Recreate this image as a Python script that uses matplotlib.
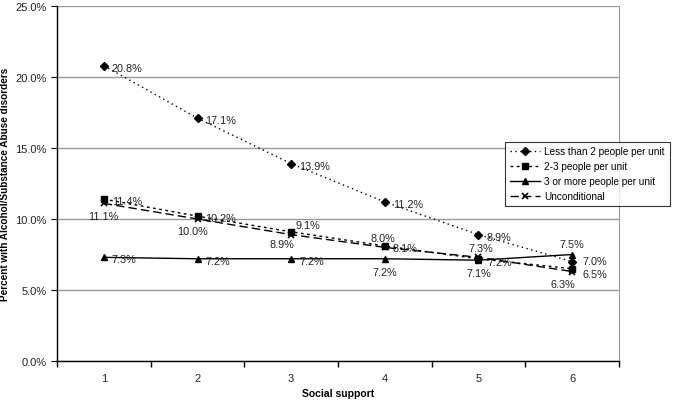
import matplotlib
matplotlib.use("Agg")
import matplotlib.pyplot as plt
from matplotlib.ticker import FuncFormatter, FixedLocator

plt.rcParams['font.family'] = ['Liberation Sans', 'DejaVu Sans']

support = [1, 2, 3, 4, 5, 6]
less_than_2 = [20.8, 17.1, 13.9, 11.2, 8.9, 7.0]
two_three = [11.4, 10.2, 9.1, 8.1, 7.2, 6.5]
three_plus = [7.3, 7.2, 7.2, 7.2, 7.1, 7.5]
unconditional = [11.1, 10.0, 8.9, 8.0, 7.3, 6.3]

names = ["Less than 2 people per unit", "2-3 people per unit",
         "3 or more people per unit", "Unconditional"]

# label placement per point (pixel offsets, alignment)
R = (8, -2, 'left')
place = [
    [R, R, R, R, R, (10, 1, 'left')],
    [R, R, (4, 7, 'left'), R, (9, -3, 'left'), (10, -5, 'left')],
    [R, R, R, (0, -13, 'center'), (0, -13, 'center'), (0, 10, 'center')],
    [(-1, -13, 'center'), (-5, -12, 'center'), (-9, -9, 'center'),
     (-2, 9, 'center'), (2, 9, 'center'), (-9, -12, 'center')],
]

styles = [
    dict(linestyle=(0, (1, 2.5)), marker='D', markersize=4),
    dict(linestyle=(0, (2, 2.5)), marker='s', markersize=5),
    dict(linestyle='-', marker='^', markersize=5),
    dict(linestyle=(0, (6, 3)), marker='x', markersize=5, markeredgewidth=1.2),
]

fig = plt.figure(figsize=(6.76, 4.06), dpi=100)
ax = fig.add_axes([57 / 676, 1 - 362 / 406, 562 / 676, 355 / 406])

series = [less_than_2, two_three, three_plus, unconditional]
for vals, name, st, pl in zip(series, names, styles, place):
    ax.plot(support, vals, color='black', linewidth=1, label=name, **st)
    for x, v, (dx, dy, ha) in zip(support, vals, pl):
        ax.annotate("%.1f%%" % v, (x, v), xytext=(dx, dy), textcoords='offset pixels',
                    ha=ha, va='center', fontsize=7.8, color='#222222')

ax.set_xlim(0.5, 6.5)
ax.set_ylim(0, 25)
ax.set_yticks([0, 5, 10, 15, 20, 25])
ax.yaxis.set_major_formatter(FuncFormatter(lambda v, p: "%.1f%%" % v))
ax.set_xticks(support)
ax.xaxis.set_minor_locator(FixedLocator([0.5, 1.5, 2.5, 3.5, 4.5, 5.5, 6.5]))
ax.tick_params(axis='x', which='major', length=0, pad=9, labelsize=8, labelcolor='#222222')
ax.tick_params(axis='x', which='minor', length=4, direction='out', width=1)
ax.tick_params(axis='y', length=4, direction='out', labelsize=8, labelcolor='#222222')
ax.grid(axis='y', color='#999999', linewidth=1)
ax.set_axisbelow(True)

ax.spines['top'].set_visible(False)
ax.spines['right'].set_color('#999999')
ax.spines['left'].set_linewidth(1)
ax.spines['bottom'].set_linewidth(1)

ax.set_xlabel("Social support", fontsize=7.5, fontweight='bold', labelpad=3)
ax.set_ylabel("Percent with Alcohol/Substance Abuse disorders", fontsize=7.2,
              fontweight='bold', labelpad=4)

leg = fig.legend(loc='upper left', bbox_to_anchor=(505 / 676, 1 - 143 / 406),
                 fontsize=7.2, frameon=True, fancybox=False, edgecolor='black',
                 handlelength=3.0, handletextpad=0.5, borderpad=0.45,
                 labelspacing=0.5, borderaxespad=0)
leg.get_frame().set_linewidth(0.8)

fig.savefig("out.png", dpi=100)
